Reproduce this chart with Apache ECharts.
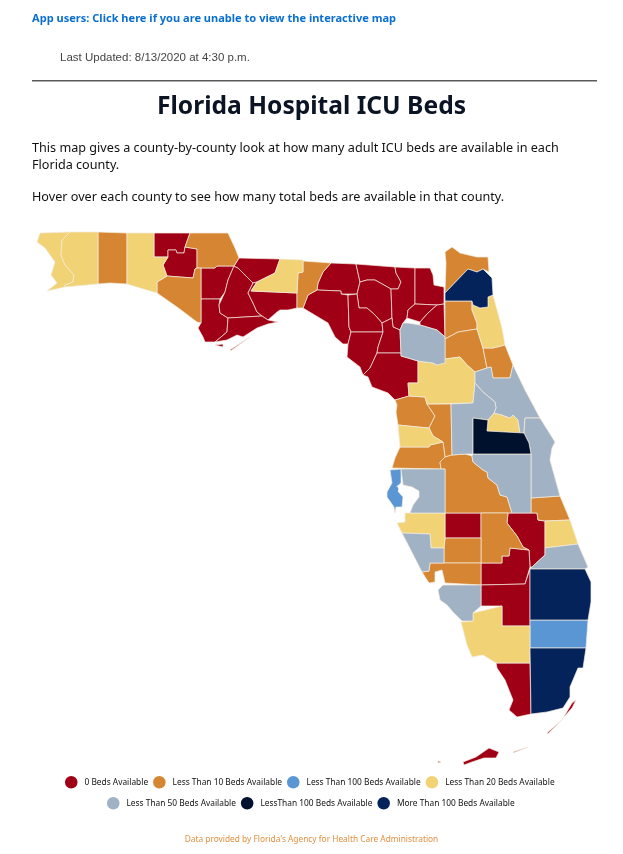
<!DOCTYPE html>
<html>
<head>
    <meta charset="utf-8">
    <script src="https://cdn.jsdelivr.net/npm/echarts@6/dist/echarts.min.js"></script>
    <style>html,body{margin:0;padding:0;background:#fff}</style>
</head>
<body>

    <div id="main" style="width:623px;height:854px;position:absolute"></div>

<script type="text/javascript">
// legend categories, in legend order
var categories = ['0 Beds Available', 'Less Than 10 Beds Available', 'Less Than 100 Beds Available', 'Less Than 20 Beds Available',
    'Less Than 50 Beds Available', 'LessThan 100 Beds Available', 'More Than 100 Beds Available'];
var colors = ['#a00016', '#d68632', '#5a96d4', '#f1d275', '#a0b2c4', '#00112e', '#05235b'];

// counties per category
var zeroBeds = ['Holmes', 'Washington', 'Calhoun', 'Gulf', 'Liberty', 'Gadsden', 'Wakulla', 'Franklin', 'Madison', 'Hamilton', 'Suwannee',
    'Columbia', 'Baker', 'Union', 'Bradford', 'Taylor', 'Lafayette', 'Dixie', 'Gilchrist', 'Levy', 'Hardee', 'Okeechobee', 'Glades', 'Hendry', 'Monroe'];
var under10 = ['Okaloosa', 'Jackson', 'Bay', 'Jefferson', 'Nassau', 'Clay', 'Putnam', 'Flagler', 'Citrus', 'Sumter', 'Pasco', 'Polk',
    'Indian River', 'Highlands', 'DeSoto', 'Charlotte'];
var under100Blue = ['Pinellas', 'Broward'];
var under20 = ['Escambia', 'Santa Rosa', 'Walton', 'Leon', 'St. Johns', 'Marion', 'Hernando', 'Seminole', 'Manatee', 'St. Lucie', 'Collier'];
var under50 = ['Alachua', 'Volusia', 'Lake', 'Brevard', 'Osceola', 'Hillsborough', 'Martin', 'Sarasota', 'Lee'];
var under100Dark = ['Orange'];
var over100 = ['Duval', 'Palm Beach', 'Miami-Dade'];
var groups = [zeroBeds, under10, under100Blue, under20, under50, under100Dark, over100];

var outlines = {
    'Escambia': [[40,233, 70,232, 62,240, 61,255, 65,265, 74,275, 73,282, 65,285, 65,287, 47,291, 57,283, 51,275, 55,262, 45,248, 37,242]],
    'Santa Rosa': [[70,232, 98,232, 98,284, 65,287, 65,285, 73,282, 74,275, 65,265, 61,255, 62,240]],
    'Okaloosa': [[98,232, 127,233, 127,284, 110,283, 98,284]],
    'Walton': [[127,233, 154,233, 154,257, 168,257, 163,265, 167,276, 157,282, 157,293, 140,288, 127,284]],
    'Holmes': [[154,233, 190,233, 185,247, 184,253, 177,253, 176,250, 168,250, 168,257, 154,257]],
    'Washington': [[168,257, 168,250, 176,250, 177,253, 184,253, 185,247, 197,249, 197,268, 195,269, 193,278, 167,276, 163,265]],
    'Jackson': [[190,233, 228,233, 235,248, 239,258, 234,266, 217,266, 215,268, 197,268, 197,249, 185,247]],
    'Bay': [[157,282, 167,276, 193,278, 195,269, 197,268, 201,268, 201,323, 197,322, 177,307, 157,293]],
    'Calhoun': [[201,268, 215,268, 217,266, 234,266, 228,280, 225,292, 220,299, 201,299]],
    'Gulf': [[201,299, 220,299, 219,305, 220,313, 228,318, 227,332, 215,342, 205,342, 203,337, 198,328, 201,323]],
    'Liberty': [[234,266, 238,268, 245,275, 253,283, 248,293, 253,303, 257,312, 262,316, 228,318, 220,313, 219,305, 225,292, 228,280]],
    'Gadsden': [[239,258, 280,259, 275,273, 257,282, 253,283, 245,275, 238,268, 234,266]],
    'Leon': [[280,259, 303,260, 303,272, 298,273, 297,293, 251,291, 257,282, 275,273]],
    'Wakulla': [[253,283, 257,282, 251,291, 297,293, 297,308, 288,310, 280,310, 277,312, 268,320, 262,316, 257,312, 253,303, 248,293]],
    'Franklin': [[228,318, 262,316, 268,320, 278,322, 268,324, 257,328, 243,337, 237,335, 227,340, 215,342, 227,332],
        [215,345, 223,344, 223,347], [230,350, 250,337, 250.6,337.6, 231,350.6]],
    'Jefferson': [[303,261, 331,263, 323,272, 318,283, 317,290, 308,295, 303,308, 297,308, 297,293, 298,273, 303,272]],
    'Madison': [[331,263, 356,264, 360,282, 357,294, 341,294, 341,291, 317,290, 318,283, 323,272]],
    'Hamilton': [[356,264, 395,267, 396,273, 401,282, 398,289, 391,289, 375,280, 367,280, 360,282]],
    'Suwannee': [[360,282, 367,280, 375,280, 391,289, 392,318, 382,323, 375,315, 367,308, 359,308, 357,294]],
    'Columbia': [[395,267, 415,268, 415,304, 408,310, 407,318, 403,323, 400,330, 393,327, 392,318, 391,289, 398,289, 401,282, 396,273]],
    'Baker': [[415,268, 430,268, 433,275, 434,285, 444,287, 444,304, 437,305, 415,304]],
    'Union': [[415,304, 437,305, 428,313, 420,322, 407,318, 408,310]],
    'Bradford': [[437,305, 444,304, 445,337, 437,330, 420,325, 420,322, 428,313]],
    'Taylor': [[308,295, 317,290, 341,291, 341,294, 348,295, 349,327, 351,332, 348,344, 343,344, 335,337, 328,323, 303,308]],
    'Lafayette': [[348,295, 357,294, 359,308, 367,308, 375,315, 382,323, 383,332, 351,332, 349,327]],
    'Dixie': [[351,332, 383,332, 378,347, 377,353, 370,368, 363,375, 360,367, 347,357, 348,344]],
    'Gilchrist': [[382,323, 392,318, 393,327, 400,330, 401,353, 377,353, 378,347, 383,332]],
    'Levy': [[377,353, 401,353, 401,356, 408,358, 418,361, 418,383, 408,383, 409,396, 395,400, 388,393, 372,387, 368,377, 363,375, 370,368]],
    'Alachua': [[400,330, 403,323, 408,323, 420,325, 437,330, 445,337, 445,359, 445,363, 437,365, 433,363, 418,361, 408,358, 401,356, 401,353]],
    'Nassau': [[445,252, 452,247, 460,253, 477,257, 488,257, 489,272, 483,269, 477,272, 468,269, 445,293, 446,263]],
    'Duval': [[445,293, 468,269, 477,272, 483,269, 492,278, 493,295, 488,297, 488,307, 480,308, 473,305, 472,301, 445,301]],
    'Clay': [[445,301, 472,301, 472,310, 477,323, 477,329, 458,332, 445,339]],
    'St. Johns': [[473,305, 480,308, 488,307, 488,297, 493,295, 502,328, 505,345, 493,348, 483,348, 477,329, 477,323, 472,310, 472,301]],
    'Putnam': [[445,339, 458,332, 477,329, 483,348, 487,368, 475,372, 467,365, 460,357, 445,359]],
    'Flagler': [[483,348, 493,348, 505,345, 513,365, 510,378, 493,378, 491,367, 487,368]],
    'Marion': [[418,361, 433,363, 437,365, 445,359, 460,357, 467,365, 475,372, 475,383, 473,403, 427,404, 425,397, 409,396, 408,383, 418,383]],
    'Citrus': [[395,400, 409,396, 425,397, 427,404, 435,416, 429,428, 418,427, 398,425, 396,412, 397,405]],
    'Sumter': [[427,404, 451,404, 452,455, 445,457, 443,442, 433,436, 429,428, 435,416]],
    'Hernando': [[398,425, 418,427, 429,428, 433,436, 443,442, 430,445, 429,447, 400,447]],
    'Pasco': [[400,447, 429,447, 430,445, 443,442, 445,457, 440,462, 441,469, 392,468, 395,458]],
    'Pinellas': [[390,470, 401,469, 401,483, 395,488, 403,497, 402,507, 396,507, 395,513, 394,507, 387,497, 387,492, 392,483]],
    'Hillsborough': [[401,469, 441,469, 445,469, 445,513, 410,513, 413,505, 419,497, 419,491, 412,487, 403,485]],
    'Polk': [[441,469, 440,462, 445,457, 452,455, 465,454, 472,456, 473,462, 483,470, 487,472, 488,478, 497,485, 500,495, 507,497, 512,513, 445,513, 445,469]],
    'Lake': [[451,404, 473,403, 475,383, 483,392, 495,402, 496,408, 494,413, 488,420, 473,418, 473,454, 465,454, 452,455]],
    'Orange': [[473,418, 488,420, 487,431, 524,433, 529,443, 531,454, 473,454]],
    'Seminole': [[494,413, 502,415, 510,418, 513,415, 518,420, 520,433, 487,431, 488,420]],
    'Volusia': [[475,372, 487,368, 491,367, 493,378, 510,378, 513,365, 525,390, 540,418, 525,418, 524,433, 520,433, 518,420, 513,415, 510,418, 502,415, 494,413, 496,408, 495,402, 483,392, 475,383]],
    'Brevard': [[525,418, 540,418, 555,442, 552,448, 550,460, 560,496, 531,498, 531,454, 529,443, 524,433]],
    'Osceola': [[473,454, 531,454, 531,498, 531,513, 512,513, 507,497, 500,495, 497,485, 488,478, 487,472, 483,470, 473,462, 472,456]],
    'Indian River': [[531,498, 560,496, 570,520, 545,521, 538,520, 537,513, 531,513]],
    'Okeechobee': [[512,513, 531,513, 537,513, 538,520, 545,521, 545,555, 532,567, 530,567, 529,550, 523,547, 517,536, 507,523, 508,513]],
    'St. Lucie': [[545,521, 570,520, 578,544, 545,548]],
    'Martin': [[545,548, 578,544, 588,567, 585,569, 530,569, 532,567, 545,555]],
    'Palm Beach': [[530,569, 585,569, 591,582, 591,602, 588,620, 530,620]],
    'Broward': [[530,620, 588,620, 586,648, 530,648]],
    'Miami-Dade': [[530,648, 586,648, 583,668, 578,668, 570,687, 570,697, 563,708, 547,712, 531,714]],
    'Monroe': [[496,663, 530,663, 531,714, 517,717, 509,710, 513,700, 505,680, 497,668],
        [463,762, 476,757, 489,748, 499,752, 496,758, 484,758, 472,762, 464,765], [562,720, 572,703, 576,700, 572,708, 563,718],
        [513,752, 528,747, 528.5,747.6, 514,752.6], [547,733, 562,720, 562.4,720.6, 548,733.6], [438,761, 441,762, 438,763]],
    'Collier': [[461,622, 473,621, 473,613, 502,606, 502,626, 530,626, 530,663, 496,663, 483,655, 472,657, 467,645]],
    'Hendry': [[481,585, 525,584, 530,569, 530,626, 502,626, 502,606, 481,606]],
    'Lee': [[443,585, 481,585, 481,606, 473,613, 473,621, 462,621, 453,612, 447,605, 440,600, 438,590]],
    'Charlotte': [[422,572, 429,571, 430,563, 481,563, 481,585, 445,583, 442,570, 435,572, 435,582, 429,583]],
    'Glades': [[481,563, 502,563, 502,556, 509,556, 510,548, 529,550, 530,567, 525,584, 481,585]],
    'Highlands': [[481,513, 508,513, 507,523, 517,536, 523,547, 529,550, 510,548, 509,556, 502,556, 502,563, 481,563]],
    'Hardee': [[445,513, 481,513, 481,538, 445,538]],
    'DeSoto': [[445,538, 481,538, 481,563, 444,563, 444,548]],
    'Manatee': [[405,513, 445,513, 445,538, 444,548, 431,548, 430,534, 402,533, 397,523, 405,522]],
    'Sarasota': [[402,533, 430,534, 431,548, 444,548, 444,563, 430,563, 429,571, 422,572]]
};

function toFeature(name) {
    var rings = outlines[name].map(function (flat) {
        var ring = [];
        for (var i = 0; i < flat.length; i += 2) {
            ring.push([flat[i], -flat[i + 1]]);
        }
        ring.push(ring[0]);
        return [ring];
    });
    return {
        type: 'Feature',
        properties: { name: name },
        geometry: { type: 'MultiPolygon', coordinates: rings }
    };
}

// one map per category so each legend entry has its own series
var series = categories.map(function (cat, i) {
    var mapName = 'florida' + i;
    echarts.registerMap(mapName, { type: 'FeatureCollection', features: groups[i].map(toFeature) });
    return {
        type: 'map',
        name: cat,
        map: mapName,
        left: 0, top: 0, width: 623, height: 854,
        aspectScale: 1,
        boundingCoords: [[0, 0], [623, -854]],
        roam: false,
        selectedMode: false,
        label: { show: false },
        emphasis: { disabled: true },
        itemStyle: { areaColor: colors[i], color: colors[i], borderColor: '#f4ece0', borderWidth: 0.7 },
        data: groups[i].map(function (n) { return { name: n, value: i }; })
    };
});

function legendRow(names, top, left) {
    return {
        data: names.map(function (n) {
            return { name: n, itemStyle: { color: colors[categories.indexOf(n)], borderWidth: 0 } };
        }),
        left: left, top: top,
        orient: 'horizontal',
        icon: 'circle',
        itemWidth: 12.5, itemHeight: 12.5,
        itemGap: 5,
        selectedMode: false,
        textStyle: { fontFamily: 'Noto Sans', fontSize: 8.35, color: '#111', padding: [0, 0, 0, 2] }
    };
}

var bodyFont = 'Noto Sans';
var myChart = echarts.init(document.getElementById('main'));
myChart.setOption({
    animation: false,
    color: colors,
    title: [
        { text: 'App users: Click here if you are unable to view the interactive map', left: 32, top: 13, padding: 0,
            textStyle: { fontFamily: bodyFont, fontSize: 11.05, fontWeight: 'bold', color: '#0a6fd0' } },
        { text: 'Last Updated: 8/13/2020 at 4:30 p.m.', left: 60, top: 52, padding: 0,
            textStyle: { fontFamily: 'Liberation Sans', fontSize: 11.5, fontWeight: 'normal', color: '#444' } },
        { text: 'Florida Hospital ICU Beds', left: 'center', top: 94, padding: 0,
            textStyle: { fontFamily: bodyFont, fontSize: 24.6, fontWeight: 'bold', color: '#0b1424' } },
        { text: 'This map gives a county-by-county look at how many adult ICU beds are available in each\nFlorida county.', left: 32, top: 140, padding: 0,
            textStyle: { fontFamily: bodyFont, fontSize: 12.64, fontWeight: 'normal', color: '#111', lineHeight: 17 } },
        { text: 'Hover over each county to see how many total beds are available in that county.', left: 32, top: 189, padding: 0,
            textStyle: { fontFamily: bodyFont, fontSize: 12.64, fontWeight: 'normal', color: '#111', lineHeight: 17 } },
        { text: "Data provided by Florida's Agency for Health Care Administration", left: 'center', top: 836, padding: 0,
            textStyle: { fontFamily: bodyFont, fontSize: 8.33, fontWeight: 'normal', color: '#e09040' } }
    ],
    legend: [
        legendRow(categories.slice(0, 4), 771, 60),
        legendRow(categories.slice(4), 792, 102)
    ],
    graphic: [{
        type: 'rect', silent: true,
        shape: { x: 32, y: 80, width: 565, height: 1.5 },
        style: { fill: '#5a5a5a' }
    }],
    series: series
});
</script>

</body>
</html>
